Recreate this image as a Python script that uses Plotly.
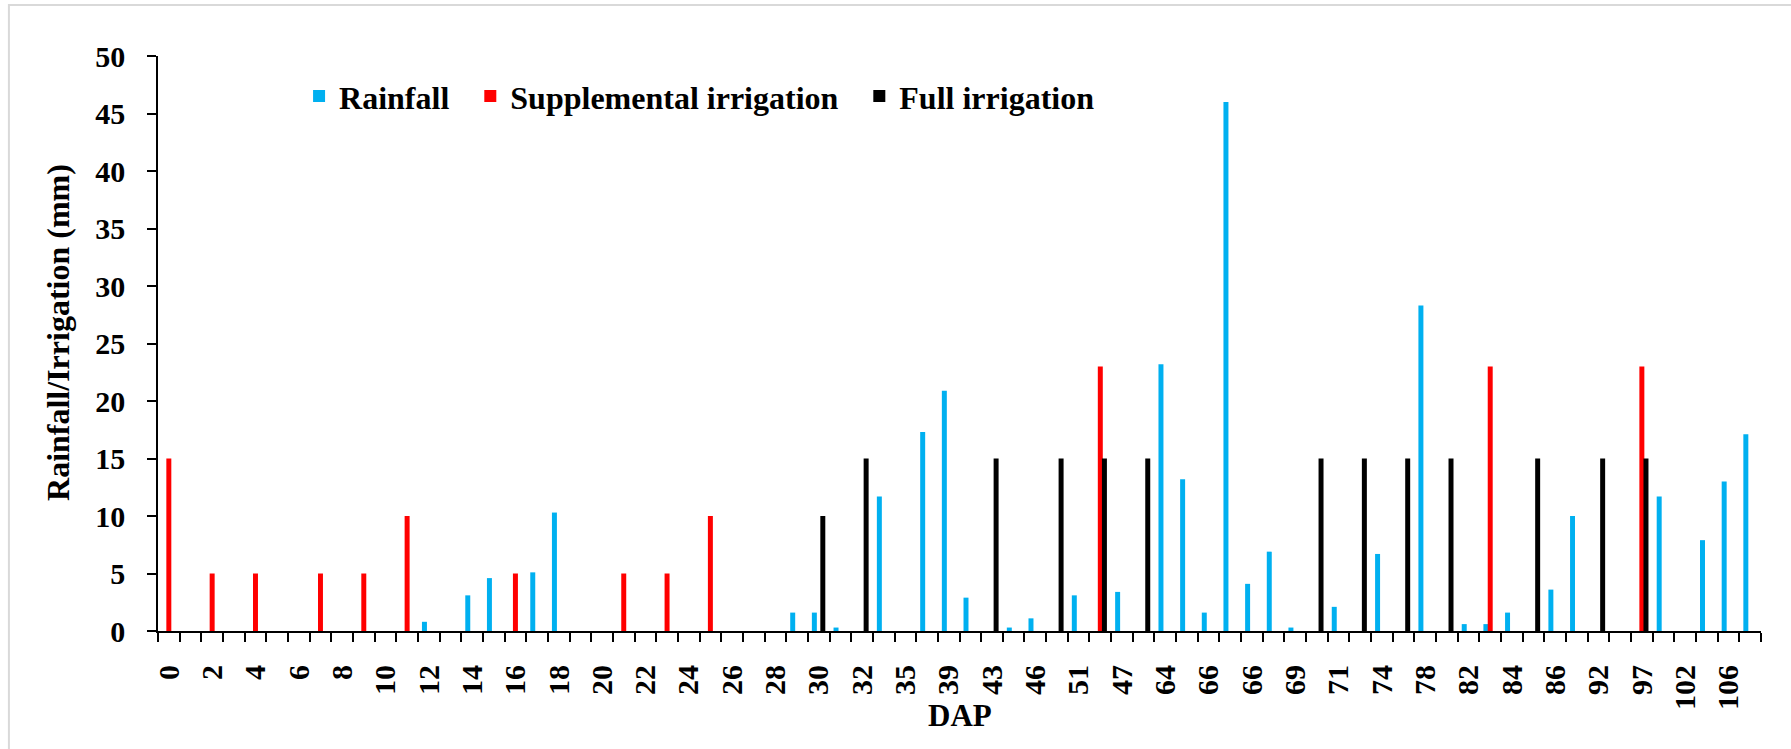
import plotly.graph_objects as go

# ---- data (one value per DAP category slot, 74 slots) ----
rainfall = [0, 0, 0, 0, 0, 0, 0, 0, 0, 0,
            0, 0, 0.8, 0, 3.1, 4.6, 0, 5.1, 10.3, 0,
            0, 0, 0, 0, 0, 0, 0, 0, 0, 1.6,
            1.6, 0.3, 0, 11.7, 0, 17.3, 20.9, 2.9, 0, 0.3,
            1.1, 0, 3.1, 0, 3.4, 0, 23.2, 13.2, 1.6, 46.0,
            4.1, 6.9, 0.3, 0, 2.1, 0, 6.7, 0, 28.3, 0,
            0.6, 0.6, 1.6, 0, 3.6, 10.0, 0, 0, 0, 11.7,
            0, 7.9, 13.0, 17.1]
supplemental = [15, 0, 5, 0, 5, 0, 0, 5, 0, 5,
                0, 10, 0, 0, 0, 0, 5, 0, 0, 0,
                0, 5, 0, 5, 0, 10, 0, 0, 0, 0,
                0, 0, 0, 0, 0, 0, 0, 0, 0, 0,
                0, 0, 0, 23, 0, 0, 0, 0, 0, 0,
                0, 0, 0, 0, 0, 0, 0, 0, 0, 0,
                0, 23, 0, 0, 0, 0, 0, 0, 23, 0,
                0, 0, 0, 0]
full_irrigation = [0, 0, 0, 0, 0, 0, 0, 0, 0, 0,
                   0, 0, 0, 0, 0, 0, 0, 0, 0, 0,
                   0, 0, 0, 0, 0, 0, 0, 0, 0, 0,
                   10, 0, 15, 0, 0, 0, 0, 0, 15, 0,
                   0, 15, 0, 15, 0, 15, 0, 0, 0, 0,
                   0, 0, 0, 15, 0, 15, 0, 15, 0, 15,
                   0, 0, 0, 15, 0, 0, 15, 0, 15, 0,
                   0, 0, 0, 0]
# labels shown on every other category slot (0, 2, 4, ...)
dap_tick_labels = ["0", "2", "4", "6", "8", "10", "12", "14", "16", "18",
                   "20", "22", "24", "26", "28", "30", "32", "35", "39", "43",
                   "46", "51", "47", "64", "66", "66", "69", "71", "74", "78",
                   "82", "84", "86", "92", "97", "102", "106"]
series_names = ["Rainfall", "Supplemental irrigation", "Full irrigation"]
series_colors = ["#00B0F0", "#FF0000", "#000000"]

n_slots = len(rainfall)
slots = list(range(n_slots))
label_slots = slots[::2][:len(dap_tick_labels)]

FONT = "Liberation Serif"
BAR_W = 0.23
centers = [-0.2, 0.0, 0.19]
pads = ["\u00a0\u00a0", "\u00a0\u00a0", ""]

fig = go.Figure()
for vals, name, color, c, pad in zip([rainfall, supplemental, full_irrigation],
                                     series_names, series_colors, centers, pads):
    fig.add_trace(go.Bar(x=slots, y=vals, name=name + pad,
                         marker=dict(color=color, line=dict(width=0)),
                         width=BAR_W, offset=c - BAR_W / 2))

fig.update_layout(
    width=1791, height=749,
    margin=dict(l=158, r=30, t=56, b=118, autoexpand=False),
    paper_bgcolor="white", plot_bgcolor="white",
    barmode="overlay",
    font=dict(family=FONT, size=30, color="black", weight="bold"),
    showlegend=True,
    legend=dict(orientation="h", x=0.088, xanchor="left", y=0.93, yanchor="middle",
                font=dict(family=FONT, size=32, color="black", weight="bold"),
                bgcolor="rgba(0,0,0,0)", itemclick=False, traceorder="normal"),
    xaxis=dict(
        range=[-0.5, n_slots - 0.5], showgrid=False, zeroline=False,
        showline=True, linecolor="black", linewidth=2,
        tickmode="array", tickvals=label_slots, ticktext=dap_tick_labels,
        ticks="", tickangle=-90, ticklabelstandoff=20,
        tickfont=dict(family=FONT, size=30, color="black", weight="bold"),
        minor=dict(tickvals=[s - 0.5 for s in slots] + [n_slots - 0.5],
                   ticks="outside", ticklen=9, tickwidth=1.5, tickcolor="black",
                   showgrid=False),
    ),
    yaxis=dict(
        range=[0, 50], tickmode="linear", tick0=0, dtick=5,
        showgrid=False, zeroline=False,
        showline=True, linecolor="black", linewidth=1.5,
        ticks="outside", ticklen=9, tickwidth=1.5, tickcolor="black",
        ticklabelstandoff=16,
        tickfont=dict(family=FONT, size=30, color="black", weight="bold"),
    ),
    annotations=[
        dict(text="DAP", xref="paper", yref="paper", x=0.5, y=-0.1478,
             xanchor="center", yanchor="middle", showarrow=False,
             font=dict(family=FONT, size=31, color="black", weight="bold")),
        dict(text="Rainfall/Irrigation (mm)", xref="paper", yref="paper",
             x=-0.0624, y=0.52, xanchor="center", yanchor="middle",
             textangle=-90, showarrow=False,
             font=dict(family=FONT, size=32, color="black", weight="bold")),
    ],
    shapes=[dict(type="rect", xref="paper", yref="paper",
                 x0=-0.093, x1=1.03, y0=-0.25, y1=1.0887,
                 line=dict(color="#D9D9D9", width=2), fillcolor="rgba(0,0,0,0)",
                 layer="below")],
)

fig.write_html("out.html")
